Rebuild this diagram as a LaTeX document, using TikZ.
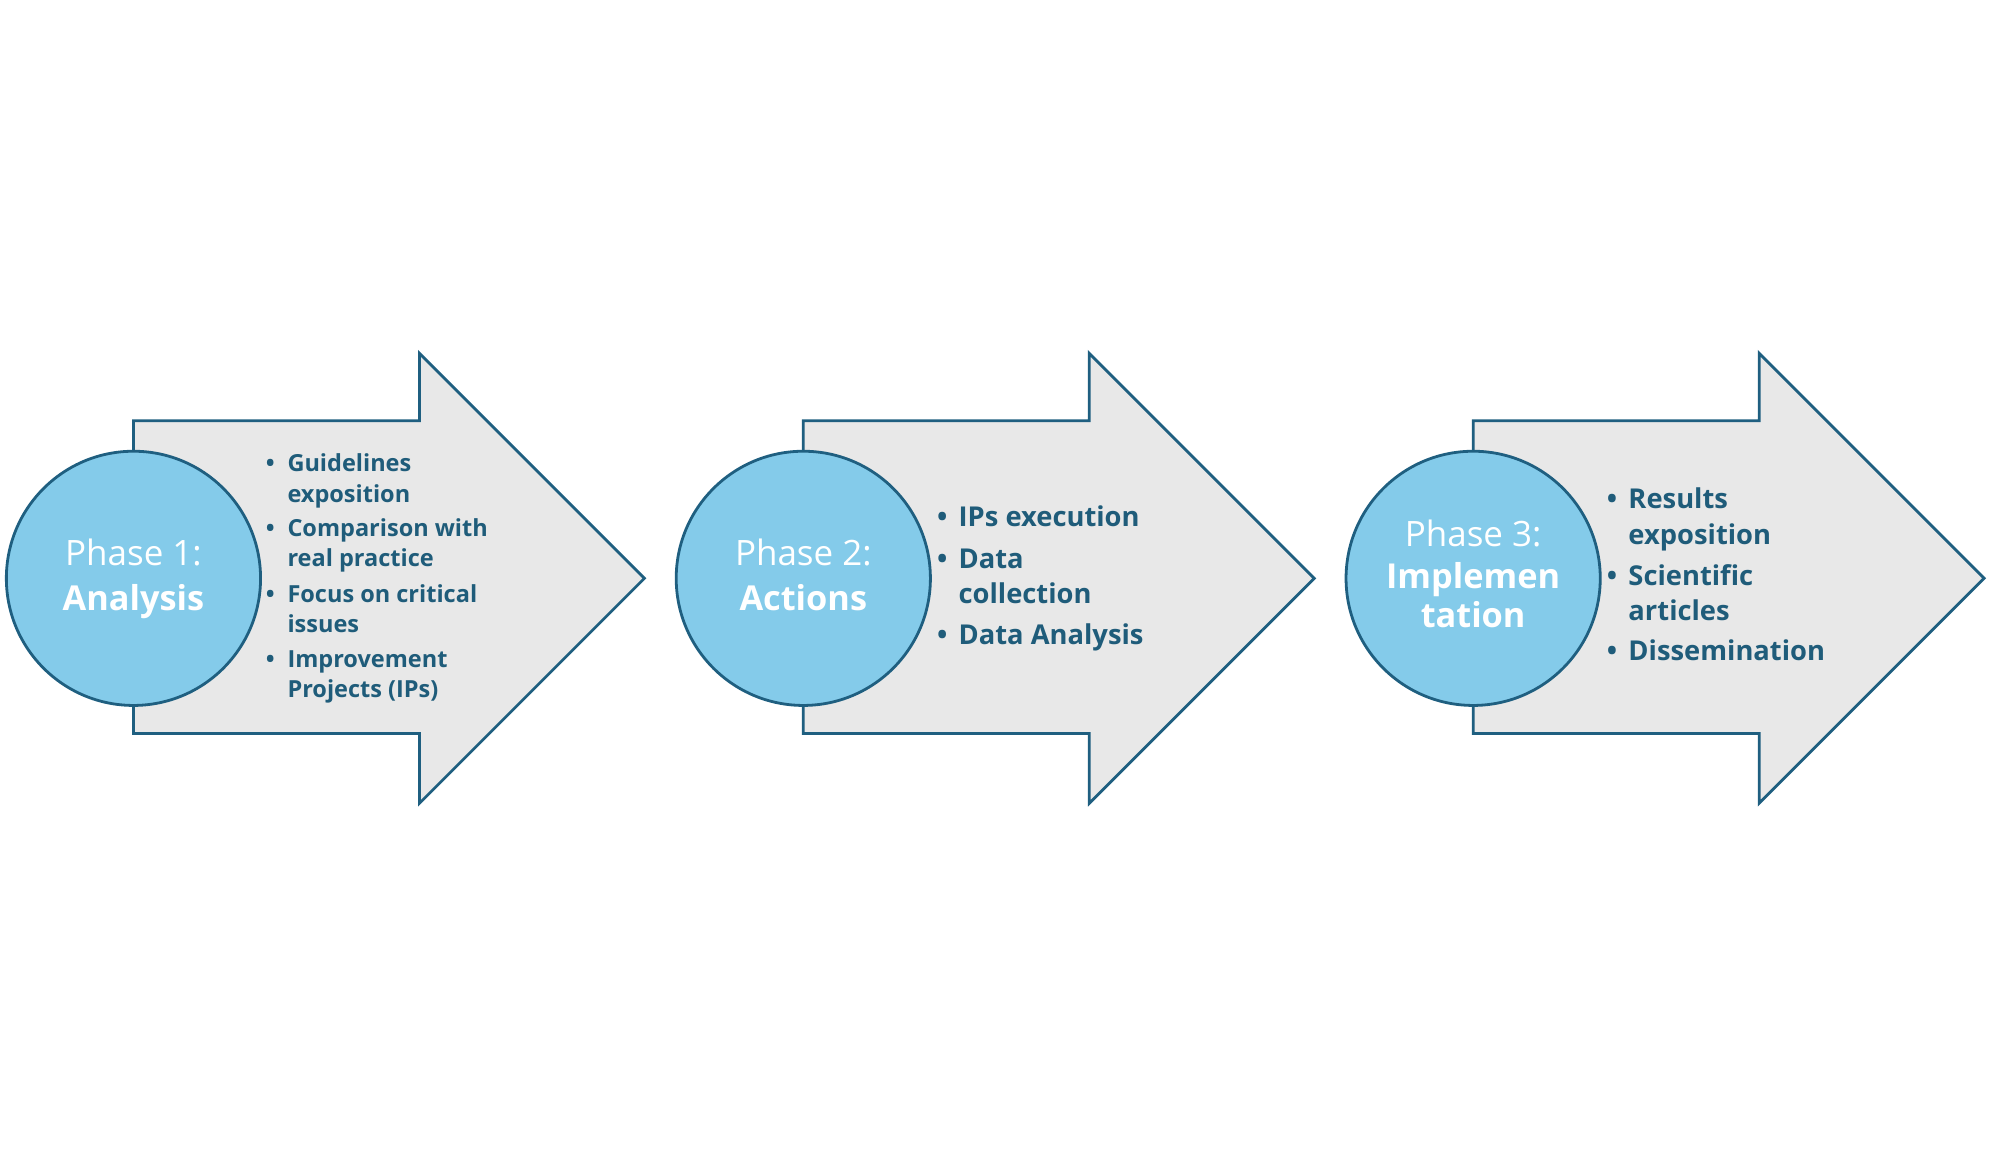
\documentclass[tikz,border=0pt]{standalone}
\usepackage{fontspec}
\setmainfont{Open Sans}[Ligatures=NoCommon]
\begin{document}
\definecolor{cfill}{HTML}{84CBEA}
\definecolor{cline}{HTML}{1F5F80}
\definecolor{afill}{HTML}{E8E8E8}
\definecolor{ctext}{HTML}{1F5C7A}
\begin{tikzpicture}[x=1pt,y=-1pt,
  arr/.style={draw=cline,line width=2.2pt,fill=afill,line join=miter},
  circ/.style={circle,draw=cline,line width=2.2pt,fill=cfill,minimum size=200pt,inner sep=0pt},
  ph/.style={anchor=base,text=white,font=\fontsize{27.5}{30}\selectfont,inner sep=0pt},
  phb/.style={ph,font=\fontsize{27}{30}\selectfont\bfseries},
  sa/.style={anchor=base west,text=ctext,inner sep=0pt,font=\fontsize{18.5}{20}\selectfont\bfseries},
  sb/.style={anchor=base west,text=ctext,inner sep=0pt,font=\fontsize{21.5}{24}\selectfont\bfseries}]
\useasboundingbox (0,0) rectangle (1568,908);
\foreach \o in {0,527,1054}{
  \draw[arr] (105+\o,331) -- (330+\o,331) -- (330+\o,278) -- (507+\o,455) -- (330+\o,632) -- (330+\o,577) -- (105+\o,577) -- cycle;
}
\node[circ] (c1) at (105,455) {};
\node[circ] (c2) at (632,455) {};
\node[circ] (c3) at (1159,455) {};
\node[ph] (p1) at (105,445) {Phase 1:};
\node[phb] (p1b) at (105,480) {Analysis};
\node[ph] (p2) at (632,445) {Phase 2:};
\node[phb] (p2b) at (632,480) {Actions};
\node[ph] (p3) at (1159,430) {Phase 3:};
\node[phb] (p3b) at (1159,463) {Implemen};
\node[phb] (p3c) at (1159,494) {tation};
% arrow 1
\node[sa] (a1b) at (209,371) {•}; \node[sa] (a1) at (226,371) {Guidelines};
\node[sa] (a2) at (226,395) {exposition};
\node[sa] (a3b) at (209,422) {•}; \node[sa] (a3) at (226,422) {Comparison with};
\node[sa] (a4) at (226,446) {real practice};
\node[sa] (a5b) at (209,474) {•}; \node[sa] (a5) at (226,474) {Focus on critical};
\node[sa] (a6) at (226,498) {issues};
\node[sa] (a7b) at (209,525) {•}; \node[sa] (a7) at (226,525) {Improvement};
\node[sa] (a8) at (226,549) {Projects (IPs)};
% arrow 2
\node[sb] (b1b) at (737,414) {•}; \node[sb] (b1) at (754,414) {IPs execution};
\node[sb] (b2b) at (737,447) {•}; \node[sb] (b2) at (754,447) {Data};
\node[sb] (b3) at (754,475) {collection};
\node[sb] (b4b) at (737,507) {•}; \node[sb] (b4) at (754,507) {Data Analysis};
% arrow 3
\node[sb] (d1b) at (1264,400) {•}; \node[sb] (d1) at (1281,400) {Results};
\node[sb] (d2) at (1281,428) {exposition};
\node[sb] (d3b) at (1264,461) {•}; \node[sb] (d3) at (1281,461) {Scientific};
\node[sb] (d4) at (1281,488) {articles};
\node[sb] (d5b) at (1264,520) {•}; \node[sb] (d5) at (1281,520) {Dissemination};
\end{tikzpicture}
\end{document}
